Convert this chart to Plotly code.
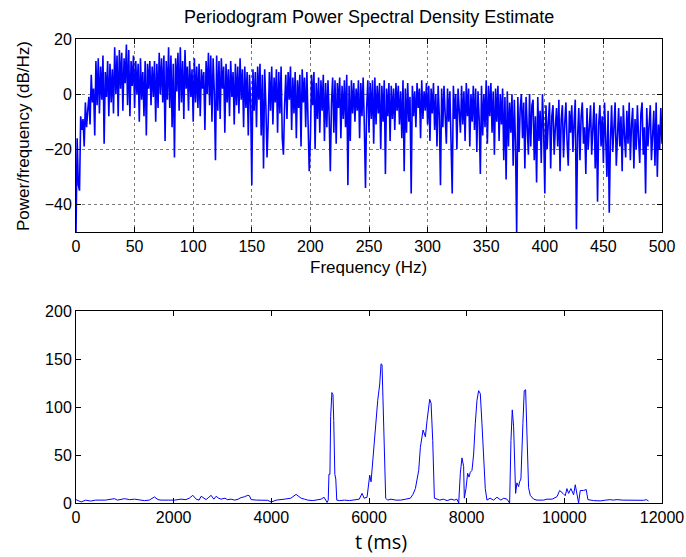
import plotly.graph_objects as go

# ---------------- data: periodogram (1 Hz steps, 0..500 Hz) ----------------
psd_db = [
    -50, -16, -33, -35, -8, -13, -9, -19, -3, -12,
    -6, -1, -11, 7, -3, 2, -15, 12, -4, 13,
    -7, 10, -2, 14, -18, 8, -1, 12, -8, 11,
    -3, 9, -7, 17, 0, 14, -8, 16, 2, 15,
    -6, 13, 4, 18, -4, 16, -8, 12, 3, 14,
    -5, 12, 0, 11, -10, 13, -2, 8, -8, 12,
    -15, 11, 2, 12, -4, 10, -1, 12, -10, 11,
    -5, 15, 0, 13, -3, 14, -17, 12, -2, 17,
    -5, 14, -12, 11, -23, 13, 1, 15, -6, 17,
    -3, 12, -9, 16, 2, 10, -6, 12, -1, 9,
    -10, 13, -3, 10, -5, 11, -8, 9, 2, 8,
    -13, 12, 0, 15, -4, 14, -10, 13, 1, -24,
    14, -6, 12, -9, 13, 2, 10, -14, 11, -3,
    9, -8, 12, -1, 8, -11, 11, -4, 10, -7,
    13, -2, 9, -12, 10, -5, 8, -15, 7, -3,
    -33, 9, -6, 8, -12, 10, -2, 11, -15, 7,
    -27, 9, -4, -23, -10, 8, -6, 10, -11, 6,
    -3, 9, -14, 8, -7, 10, -16, -22, -4, 7,
    -9, 8, -2, 10, -13, 6, -7, 8, -16, 5,
    -5, 7, -19, 9, -3, 6, -12, 8, -10, -28,
    -16, 7, -4, 8, -20, 4, -9, 6, -14, 5,
    -6, 7, -17, 4, -12, 5, -8, -28, -3, 6,
    -14, 5, -18, 4, -5, 6, -16, 3, -9, 5,
    -12, 7, -33, 3, -17, 5, -7, 4, -10, 2,
    -6, 5, -16, 4, -8, 6, -11, -34, -5, 5,
    -14, 4, -9, 5, -18, 6, -11, 3, -7, 4,
    -20, 3, -10, 5, -29, 2, -8, 4, -17, 3,
    -9, 2, -13, 4, -6, 3, -11, 1, -16, 5,
    -28, 2, -14, 4, -10, -1, -36, 3, -8, 1,
    -12, 4, -5, 2, -16, 5, -9, 1, -6, 4,
    -11, 3, -17, 2, -7, 4, -13, 0, -19, 3,
    -8, -33, 2, -12, 3, -6, -18, 2, -10, 1,
    -15, -36, 3, -9, 0, -20, 2, -7, -14, 3,
    -11, 1, -17, 4, -8, 2, -19, 0, -10, 3,
    -13, 2, -21, 1, -9, -29, 3, -15, 0, -12,
    5, -18, 3, -8, 4, -14, 1, -22, 2, -10,
    3, -17, 0, -11, 2, -24, -1, -31, 1, -19,
    -3, -14, 0, -26, -2, -18, -50, -1, -21, -5,
    0, -16, -3, -27, -1, -12, -22, 0, -19, -4,
    -2, -24, -8, -32, -1, -17, -6, -25, 0, -13,
    -36, -4, -20, -10, -3, -27, -8, -4, -22, -12,
    -5, -19, -2, -28, -9, -4, -23, -11, -3, -17,
    -26, -6, -14, -4, -21, -10, -2, -49, -15, -5,
    -24, -8, -3, -18, -12, -29, -5, -20, -9, -4,
    -22, -13, -3, -27, -7, -39, -11, -4, -19, -8,
    -25, -3, -14, -30, -6, -43, -17, -4, -21, -10,
    -3, -26, -12, -5, -19, -8, -28, -4, -15, -23,
    -6, -18, -3, -24, -11, -5, -27, -9, -20, -4,
    -16, -25, -7, -3, -22, -12, -36, -5, -19, -9,
    -4, -24, -14, -6, -26, -3, -30, -11, -20, -5,
    -18,
]
freq_hz = list(range(len(psd_db)))

# ---------------- data: time signal ----------------
t_ms = [
    0, 50, 106, 200, 300, 400, 600, 788, 850, 993, 1100, 1200, 1300, 1400, 1500,
    1607, 1680, 1743, 1900, 2017, 2150, 2250, 2320, 2392, 2460, 2520, 2563, 2620,
    2665, 2720, 2767, 2822, 2869, 2920, 2972, 3050, 3100, 3176, 3250, 3320, 3381,
    3450, 3518, 3552, 3586, 3700, 3800, 3927, 3995, 4100, 4268, 4400, 4507, 4560,
    4610, 4680, 4746, 4850, 4950, 5019, 5080, 5141, 5165, 5180, 5200, 5215, 5240,
    5262, 5278, 5300, 5320, 5340, 5400, 5500, 5600, 5700, 5800, 5858, 5900, 5960,
    5995, 6015, 6042, 6083, 6131, 6179, 6220, 6235, 6247, 6267, 6288, 6315, 6342,
    6380, 6450, 6550, 6650, 6750, 6847, 6900, 6950, 7018, 7052, 7107, 7130, 7155,
    7189, 7243, 7271, 7305, 7339, 7380, 7450, 7520, 7600, 7680, 7750, 7800, 7837,
    7870, 7904, 7938, 7952, 7986, 8020, 8047, 8075, 8109, 8143, 8177, 8211, 8245,
    8279, 8313, 8347, 8381, 8416, 8480, 8550, 8620, 8700, 8760, 8825, 8880, 8907,
    8934, 8961, 8982, 9002, 9029, 9063, 9084, 9111, 9152, 9179, 9207, 9234, 9268,
    9302, 9371, 9440, 9575, 9643, 9750, 9850, 9904, 9972, 10019, 10053, 10088,
    10135, 10190, 10224, 10258, 10292, 10326, 10394, 10448, 10483, 10600, 10735,
    10850, 10940, 11000, 11077, 11200, 11400, 11550, 11623, 11680, 11725,
]
amplitude = [
    3.5, 2.5, 1.1, 3, 2, 3, 3, 4.5, 3, 4.5, 3.5, 4, 3, 2.5, 3,
    6.3, 3.5, 3, 3, 3, 4, 3.5, 5, 8, 4, 3, 7, 4.5,
    3.5, 6, 8, 4, 7, 5, 4, 5, 3.5, 4, 3, 4, 5.6,
    6.5, 8, 7.5, 3.5, 3, 3, 2.8, 1, 3, 4, 5, 9, 7,
    5, 4, 3, 2.5, 3, 4, 6, 0.5, 3, 30, 30, 90, 115,
    113, 86, 30, 25, 3, 2.5, 3, 2.5, 3, 4, 10, 5, 6,
    23, 29, 22, 48, 86, 107, 124, 140, 145, 144, 110, 48, 5,
    3, 4, 3, 3, 4, 5, 9, 15, 34, 58, 76, 72, 69,
    86, 108, 104, 65, 5, 4, 3, 4, 2.5, 4, 3, 4, 0,
    31, 47, 38, 5, 15, 31, 27, 32, 34, 51, 83, 107, 117,
    114, 83, 48, 15, 3, 5, 3, 6, 3, 5, 4, 0, 65,
    97, 80, 31, 10, 21, 17, 22, 25, 83, 117, 118, 72, 16,
    8, 4, 3, 3, 4, 4, 6.6, 13, 10, 7.6, 15, 10,
    15, 8.6, 19, 10, 0, 13, 13, 14, 3.5, 2.5, 2.2,
    3, 3.5, 3, 3.5, 3, 3, 2.5, 2.8, 3.5, 2,
]

top_xticks = [0, 50, 100, 150, 200, 250, 300, 350, 400, 450, 500]
top_yticks = [-40, -20, 0, 20]
bot_xticks = [0, 2000, 4000, 6000, 8000, 10000, 12000]
bot_xlabels = ["0", "2000", "4000", "6000", "8000", "10000", "12000"]
bot_yticks = [0, 50, 100, 150, 200]

W, H = 686, 557
def px(x):
    return x / W
def py(y):
    return 1 - y / H

FONT = "Liberation Sans, Arial, sans-serif"

fig = go.Figure()
fig.add_trace(go.Scatter(x=freq_hz, y=psd_db, mode="lines",
                         line=dict(color="#0000FF", width=1.6),
                         xaxis="x", yaxis="y", showlegend=False, hoverinfo="skip"))
fig.add_trace(go.Scatter(x=t_ms, y=amplitude, mode="lines",
                         line=dict(color="#0000FF", width=1),
                         xaxis="x2", yaxis="y2", showlegend=False, hoverinfo="skip"))

axis_common = dict(showline=True, linecolor="black", linewidth=1, mirror="all",
                   ticks="inside", ticklen=5, tickcolor="black", zeroline=False,
                   tickfont=dict(family=FONT, size=16, color="black"),
                   automargin=False)

fig.update_layout(
    width=W, height=H,
    margin=dict(l=0, r=0, t=0, b=0),
    paper_bgcolor="white", plot_bgcolor="white",
    xaxis=dict(domain=[px(76), px(662)], range=[0, 500], tickvals=top_xticks,
               showgrid=True, gridcolor="#7a7a7a", griddash="dot", gridwidth=1,
               anchor="y", **axis_common),
    yaxis=dict(domain=[py(232), py(39)], range=[-50, 20], tickvals=top_yticks,
               showgrid=True, gridcolor="#7a7a7a", griddash="dot", gridwidth=1,
               anchor="x", **axis_common),
    xaxis2=dict(domain=[px(76), px(662)], range=[0, 12000], tickvals=bot_xticks,
                ticktext=bot_xlabels, showgrid=False, anchor="y2", **axis_common),
    yaxis2=dict(domain=[py(503), py(311)], range=[0, 200], tickvals=bot_yticks,
                showgrid=False, anchor="x2", **axis_common),
    annotations=[
        dict(text="Periodogram Power Spectral Density Estimate", x=px(369), y=py(17),
             xref="paper", yref="paper", xanchor="center", yanchor="middle",
             showarrow=False, font=dict(family=FONT, size=18, color="black")),
        dict(text="Power/frequency (dB/Hz)", x=px(23), y=py(136), textangle=-90,
             xref="paper", yref="paper", xanchor="center", yanchor="middle",
             showarrow=False, font=dict(family=FONT, size=17, color="black")),
        dict(text="Frequency (Hz)", x=px(369), y=py(267),
             xref="paper", yref="paper", xanchor="center", yanchor="middle",
             showarrow=False, font=dict(family=FONT, size=17, color="black")),
        dict(text="t (ms)", x=px(381), y=py(541),
             xref="paper", yref="paper", xanchor="center", yanchor="middle",
             showarrow=False, font=dict(family="Open Sans, sans-serif", size=20, color="black")),
    ],
)

fig.write_html("out.html")
